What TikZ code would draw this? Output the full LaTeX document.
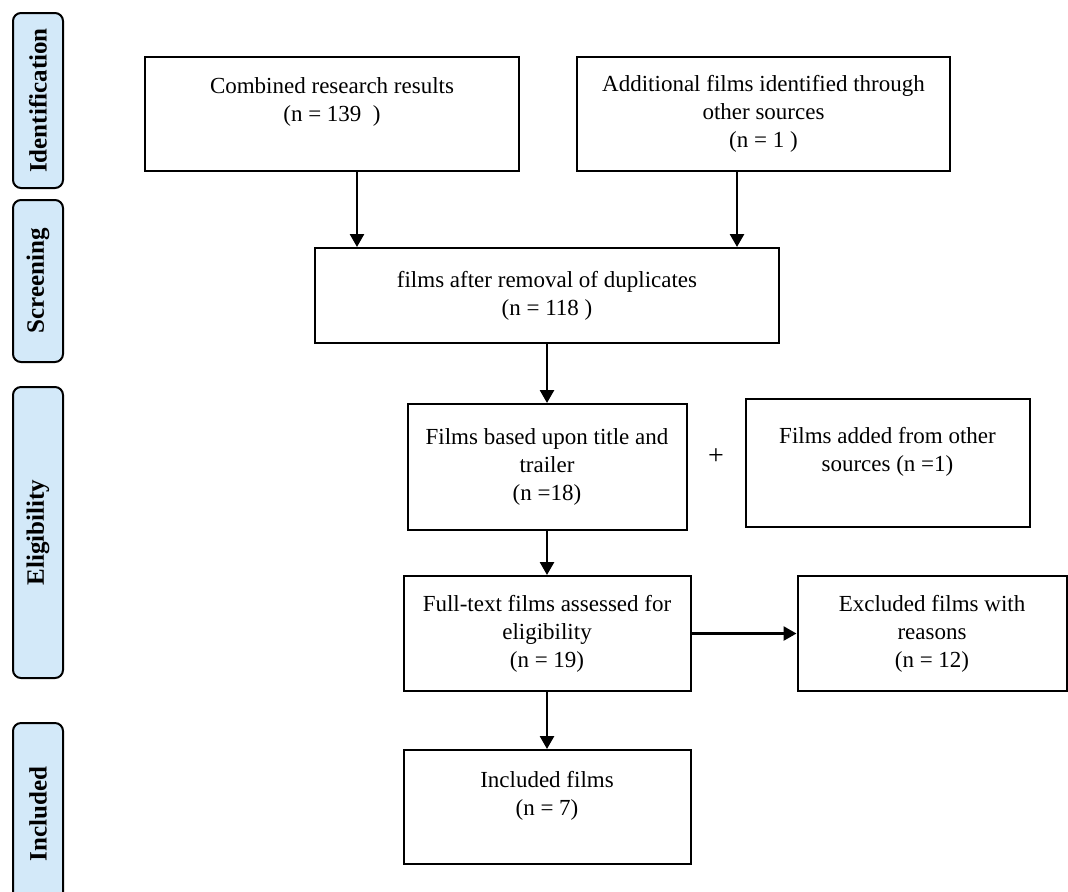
\documentclass[tikz,border=0pt]{standalone}
\usepackage{fontspec}
\setmainfont{Liberation Serif}
\usetikzlibrary{arrows.meta,positioning,calc}
\definecolor{PhaseBlue}{HTML}{D3E9F9}
\tikzset{
  % flow box
  FB/.style={rectangle,draw,line width=1pt,align=center,inner sep=2pt,
             font=\fontsize{11.5}{14}\selectfont},
  % phase tab on the left
  PH/.style={rectangle,rounded corners=4pt,draw,line width=1pt,fill=PhaseBlue,
             rotate=90,minimum height=25pt,inner sep=0pt,
             font=\fontsize{12.5}{14}\selectfont\bfseries},
  % arrow
  arr/.style={-{Triangle[length=6.5pt,width=7pt]},line width=1.3pt}
}
\begin{document}
\begin{tikzpicture}[x=0.5pt,y=-0.5pt]
  \useasboundingbox (0,0) rectangle (1068,891);
  % phases
  \node[PH,minimum width=87.5pt]  (phId)   at (38,100.5) {Identification};
  \node[PH,minimum width=81pt]    (phScr)  at (38,281)   {Screening};
  \node[PH,minimum width=145.5pt] (phElig) at (38,532.5) {Eligibility};
  \node[PH,minimum width=91pt]    (phIncl) at (38,814)   {Included};

  % boxes
  \node[FB,minimum width=187pt,minimum height=57pt] (comb) at (332,114) {Combined research results\\(n = 139\ \ )\\~};
  \node[FB,minimum width=186.5pt,minimum height=57pt,right=28pt of comb] (extra) {Additional films identified through\\other sources\\(n = 1 )};
  \node[FB,minimum width=232pt,minimum height=47.5pt] (dedup) at (547,295.5) {films after removal of duplicates\\(n = 118 )};
  \node[FB,minimum width=139.5pt,minimum height=63pt,below=29.5pt of dedup] (title) {Films based upon title and\\trailer\\(n =18)};
  \node[FB,minimum width=142pt,minimum height=64pt,right=28.5pt of title,yshift=2pt] (added) {Films added from other\\sources (n =1)\\~};
  \node[font=\fontsize{14}{16}\selectfont,yshift=4pt] (plus) at ($(title.east)!0.5!(added.west)$) {+};
  \node[FB,minimum width=143.5pt,minimum height=57.5pt,below=22pt of title] (full) {Full-text films assessed for\\eligibility\\(n = 19)};
  \node[FB,minimum width=134.5pt,minimum height=57.5pt,right=52.5pt of full] (excl) {Excluded films with\\reasons\\(n = 12)};
  \node[FB,minimum width=143.5pt,minimum height=57pt,below=28.5pt of full] (kept) {Included films\\(n = 7)\\~};

  \draw[arr] ([xshift=-95pt]dedup.north |- comb.south) -- ([xshift=-95pt]dedup.north);
  \draw[arr] ([xshift=95pt]dedup.north |- extra.south) -- ([xshift=95pt]dedup.north);
  \draw[arr] (dedup) -- (title);
  \draw[arr] (title) -- (full);
  \draw[arr] (full) -- (excl);
  \draw[arr] (full) -- (kept);
\end{tikzpicture}
\end{document}
